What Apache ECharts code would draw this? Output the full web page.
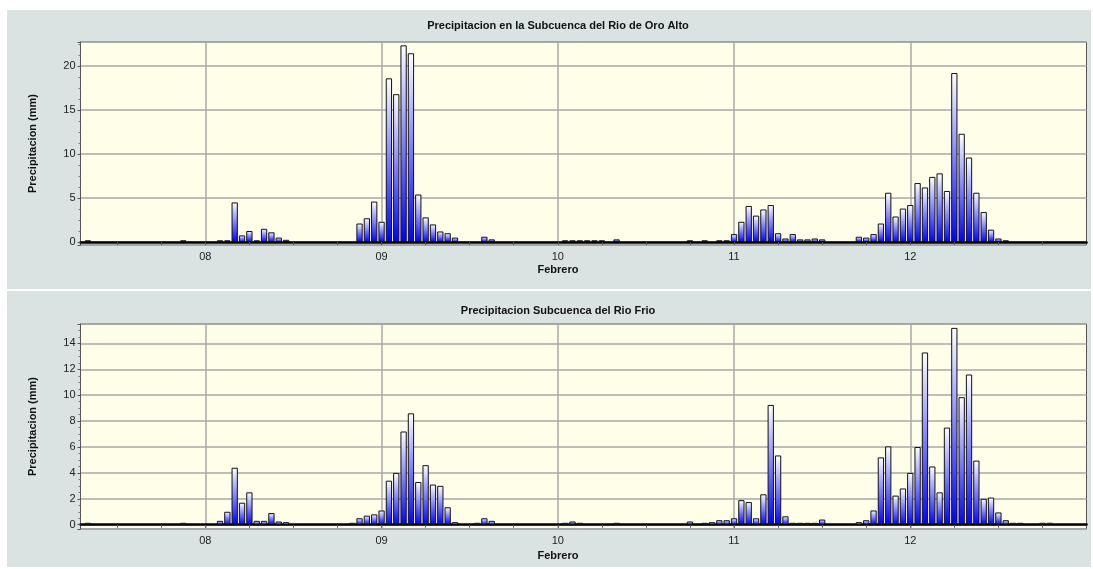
<!DOCTYPE html>
<html>
<head>
<meta charset="utf-8">
<title>Precipitacion</title>
<script src="https://cdn.jsdelivr.net/npm/echarts@6/dist/echarts.min.js"></script>
<style>
  html, body { margin: 0; padding: 0; background: #fff; }
  #chart { width: 1093px; height: 569px; }
</style>
</head>
<body>
<div id="chart"></div>
<script>
const _ = null;
// days of February shown on the axis, first one starts at 07:00, axis ends at 13 00:00
const days = ['07', '08', '09', '10', '11', '12'];
const firstHour = 7;
const axisEnd = '13 00';

// hourly precipitation (mm), index = hour of the day
const oroAlto07 = [_, _, _, _, _, _, _, _, 0.2, _, _, _, _, _, _, _, _, _, _, _, _, 0.2, _, _];
const oroAlto08 = [_, _, 0.2, 0.2, 4.5, 0.75, 1.25, 0.2, 1.5, 1.1, 0.5, 0.25, _, _, _, _, _, _, _, _, _, 2.1, 2.7, 4.6];
const oroAlto09 = [2.3, 18.6, 16.8, 22.35, 21.45, 5.4, 2.8, 2.0, 1.2, 1.0, 0.5, _, _, _, 0.6, 0.3, _, _, _, _, _, _, _, _];
const oroAlto10 = [_, 0.2, 0.2, 0.2, 0.2, 0.2, 0.2, _, 0.3, _, _, _, _, _, _, _, _, _, 0.2, _, 0.2, _, 0.2, 0.2];
const oroAlto11 = [0.9, 2.3, 4.1, 3.0, 3.7, 4.2, 1.0, 0.4, 0.9, 0.3, 0.3, 0.4, 0.3, _, _, _, _, 0.6, 0.5, 0.9, 2.1, 5.6, 2.9, 3.8];
const oroAlto12 = [4.2, 6.7, 6.2, 7.4, 7.8, 5.8, 19.2, 12.3, 9.6, 5.6, 3.4, 1.4, 0.4, 0.2, _, _, _, _, _, _, _, _, _, _];

const frio07 = [_, _, _, _, _, _, _, _, 0.15, _, _, _, _, _, _, _, _, _, _, _, _, 0.15, _, _];
const frio08 = [_, _, 0.3, 1.0, 4.4, 1.7, 2.5, 0.3, 0.3, 0.9, 0.25, 0.2, _, _, _, _, _, _, _, _, 0.15, 0.5, 0.7, 0.8];
const frio09 = [1.1, 3.4, 4.0, 7.2, 8.6, 3.3, 4.6, 3.1, 3.0, 1.35, 0.2, _, _, 0.15, 0.5, 0.3, _, _, _, _, _, _, _, _];
const frio10 = [_, 0.15, 0.25, 0.15, _, _, _, _, 0.15, _, _, _, _, _, _, _, _, _, 0.25, _, 0.15, 0.2, 0.35, 0.35];
const frio11 = [0.5, 1.9, 1.75, 0.5, 2.35, 9.25, 5.35, 0.65, 0.15, 0.15, 0.15, 0.15, 0.4, _, _, _, _, 0.2, 0.35, 1.1, 5.2, 6.05, 2.25, 2.8];
const frio12 = [4.0, 6.0, 13.3, 4.5, 2.5, 7.5, 15.2, 9.85, 11.6, 4.95, 2.0, 2.1, 0.95, 0.35, 0.15, 0.15, _, _, 0.15, 0.15, _, _, _, _];

// y axis: extent and label step per panel
const oroAltoY = [-0.34, 22.73];
const frioY = [-0.33, 15.5];
const oroAltoStep = 5;
const frioStep = 2;

const hours = [];
days.forEach((d, i) => {
  for (let h = i === 0 ? firstHour : 0; h < 24; h++) {
    hours.push(d + ' ' + String(h).padStart(2, '0'));
  }
});
hours.push(axisEnd);

function byHour(list) {
  const out = [];
  list.forEach((arr, i) => out.push(...(i === 0 ? arr.slice(firstHour) : arr)));
  return out;
}

const font = "'Liberation Sans', Arial, sans-serif";
const gridColor = '#a9a9a9';
const isDay = (i, v) => v !== axisEnd && v.slice(3) === '00';

function xAxisFor(gridIndex) {
  return {
    type: 'category',
    gridIndex: gridIndex,
    data: hours,
    boundaryGap: false,
    axisLine: { lineStyle: { color: '#000', width: 2.5 } },
    axisTick: {
      interval: (i, v) => v !== axisEnd && Number(v.slice(3)) % 6 === 0,
      length: 3,
      lineStyle: { color: '#555' }
    },
    axisLabel: {
      interval: isDay,
      formatter: v => v.slice(0, 2),
      color: '#222',
      fontSize: 11,
      fontFamily: font,
      margin: 6
    },
    splitLine: { show: true, interval: isDay, lineStyle: { color: gridColor, width: 1.5 } }
  };
}

function yAxisFor(gridIndex, ext, step) {
  return {
    type: 'value',
    gridIndex: gridIndex,
    min: ext[0],
    max: ext[1],
    minInterval: step,
    maxInterval: step,
    name: 'Precipitacion (mm)',
    nameLocation: 'middle',
    nameGap: 42,
    nameTextStyle: { fontSize: 11, fontWeight: 'bold', color: '#111', fontFamily: font },
    axisLine: { show: true, lineStyle: { color: '#555', width: 1 } },
    axisTick: { show: true, length: 3, lineStyle: { color: '#555' } },
    minorTick: { show: true, splitNumber: 4, length: 2, lineStyle: { color: '#777' } },
    axisLabel: {
      color: '#222',
      fontSize: 11,
      fontFamily: font,
      margin: 5,
      formatter: v => (Math.abs(v / step - Math.round(v / step)) < 1e-6 ? String(Math.round(v)) : '')
    },
    splitLine: { lineStyle: { color: gridColor, width: 1.5 } }
  };
}

const barFill = {
  type: 'linear', x: 0, y: 0, x2: 0, y2: 1,
  colorStops: [{ offset: 0, color: '#ffffff' }, { offset: 1, color: '#0000ff' }]
};

function barSeries(name, index, data) {
  return {
    name: name,
    type: 'bar',
    xAxisIndex: index,
    yAxisIndex: index,
    data: data,
    barWidth: 6.3,
    itemStyle: { color: barFill, borderColor: '#111', borderWidth: 1 }
  };
}

const titleStyle = { fontSize: 11, fontWeight: 'bold', color: '#111', fontFamily: font };

const chart = echarts.init(document.getElementById('chart'));
chart.setOption({
  backgroundColor: '#ffffff',
  animation: false,
  graphic: [
    { type: 'rect', z: -10, silent: true, shape: { x: 7, y: 10, width: 1084, height: 279 }, style: { fill: '#dae2e2' } },
    { type: 'rect', z: -10, silent: true, shape: { x: 7, y: 291, width: 1084, height: 276 }, style: { fill: '#dae2e2' } }
  ],
  title: [
    { text: 'Precipitacion en la Subcuenca del Rio de Oro Alto', left: 558, top: 20, padding: 0, textAlign: 'center', textStyle: titleStyle },
    { text: 'Febrero', left: 558, top: 264, padding: 0, textAlign: 'center', textStyle: titleStyle },
    { text: 'Precipitacion Subcuenca del Rio Frio', left: 558, top: 305, padding: 0, textAlign: 'center', textStyle: titleStyle },
    { text: 'Febrero', left: 558, top: 550, padding: 0, textAlign: 'center', textStyle: titleStyle }
  ],
  grid: [
    { left: 80.5, top: 42, width: 1006, height: 203, show: true, backgroundColor: '#fefee9', borderColor: '#555', borderWidth: 1 },
    { left: 80.5, top: 324, width: 1006, height: 205, show: true, backgroundColor: '#fefee9', borderColor: '#555', borderWidth: 1 }
  ],
  xAxis: [xAxisFor(0), xAxisFor(1)],
  yAxis: [yAxisFor(0, oroAltoY, oroAltoStep), yAxisFor(1, frioY, frioStep)],
  series: [
    barSeries('Rio de Oro Alto', 0, byHour([oroAlto07, oroAlto08, oroAlto09, oroAlto10, oroAlto11, oroAlto12])),
    barSeries('Rio Frio', 1, byHour([frio07, frio08, frio09, frio10, frio11, frio12]))
  ]
});
</script>
</body>
</html>
